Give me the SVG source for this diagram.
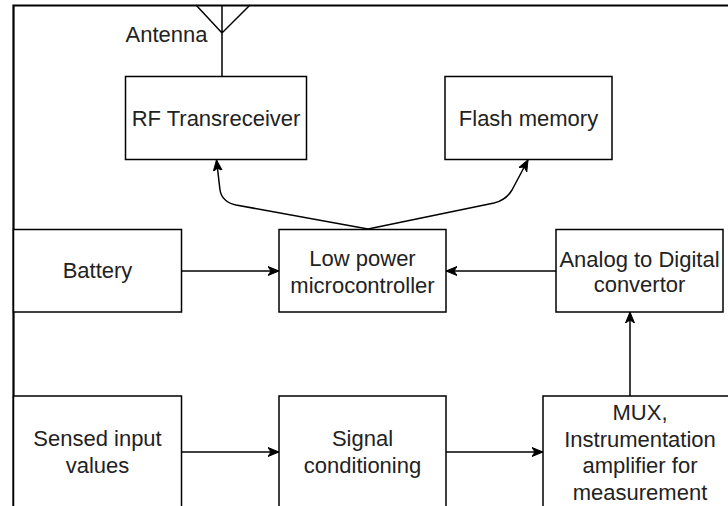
<svg xmlns="http://www.w3.org/2000/svg" width="728" height="506" viewBox="0 0 728 506">
<style>
.box{fill:#fff;stroke:#000;stroke-width:1.5}
.lbl{font-family:"Liberation Sans",Arial,sans-serif;font-size:22px;fill:#222;text-anchor:middle}
.edge{fill:none;stroke:#000;stroke-width:1.5}
.frame{fill:none;stroke:#000;stroke-width:2.2}
</style>
<defs>
<marker id="arr" markerUnits="userSpaceOnUse" markerWidth="12" markerHeight="10" refX="11" refY="5" orient="auto" viewBox="0 0 12 10">
<path d="M0,0.5 L11,5 L0,9.5 L3,5 Z" fill="#000" stroke="#000" stroke-width="1"/>
</marker>
</defs>
<rect width="728" height="506" fill="#fff"/>
<g id="frame">
<path class="frame" d="M13.5,506 L13.5,5.5 L728,5.5"/>
</g>
<g id="antenna">
<path class="edge" d="M222,76 L222,5 M196,5 L222,33 L250,5"/>
<text class="lbl" x="166.5" y="42">Antenna</text>
</g>
<g id="connectors">
<path class="edge" d="M182,271 L279,271" marker-end="url(#arr)"/>
<path class="edge" d="M556,271 L446,271" marker-end="url(#arr)"/>
<path class="edge" d="M630,396 L630,312" marker-end="url(#arr)"/>
<path class="edge" d="M182,452 L279,452" marker-end="url(#arr)"/>
<path class="edge" d="M446,452 L543,452" marker-end="url(#arr)"/>
<path class="edge" d="M368,229 L236,205 Q222,202 220,190 L216.5,160" marker-end="url(#arr)"/>
<path class="edge" d="M368,229 L494,203 Q506,200 512,190 L528,160" marker-end="url(#arr)"/>
</g>
<g id="rf">
<rect class="box" x="125.5" y="76.5" width="181" height="83"/>
<text class="lbl" x="216" y="126">RF Transreceiver</text>
</g>
<g id="flash">
<rect class="box" x="445" y="76.5" width="167" height="83"/>
<text class="lbl" x="528.5" y="126">Flash memory</text>
</g>
<g id="battery">
<rect class="box" x="13.5" y="229.5" width="168" height="82.5"/>
<text class="lbl" x="97.5" y="278">Battery</text>
</g>
<g id="mcu">
<rect class="box" x="279" y="229.5" width="167" height="82.5"/>
<text class="lbl" x="362.5" y="266">Low power</text>
<text class="lbl" x="362.5" y="292.5">microcontroller</text>
</g>
<g id="adc">
<rect class="box" x="556" y="229.5" width="167" height="82.5"/>
<text class="lbl" x="639.5" y="266.5">Analog to Digital</text>
<text class="lbl" x="639.5" y="292">convertor</text>
</g>
<g id="sensed">
<rect class="box" x="13.5" y="396" width="168" height="130"/>
<text class="lbl" x="97.5" y="446">Sensed input</text>
<text class="lbl" x="97.5" y="472.5">values</text>
</g>
<g id="signal">
<rect class="box" x="279" y="396" width="167" height="130"/>
<text class="lbl" x="362.5" y="446">Signal</text>
<text class="lbl" x="362.5" y="472.5">conditioning</text>
</g>
<g id="mux">
<rect class="box" x="543" y="396" width="195" height="130"/>
<text class="lbl" x="640" y="420">MUX,</text>
<text class="lbl" x="640" y="446.5">Instrumentation</text>
<text class="lbl" x="640" y="473">amplifier for</text>
<text class="lbl" x="640" y="499.5">measurement</text>
</g>
</svg>
